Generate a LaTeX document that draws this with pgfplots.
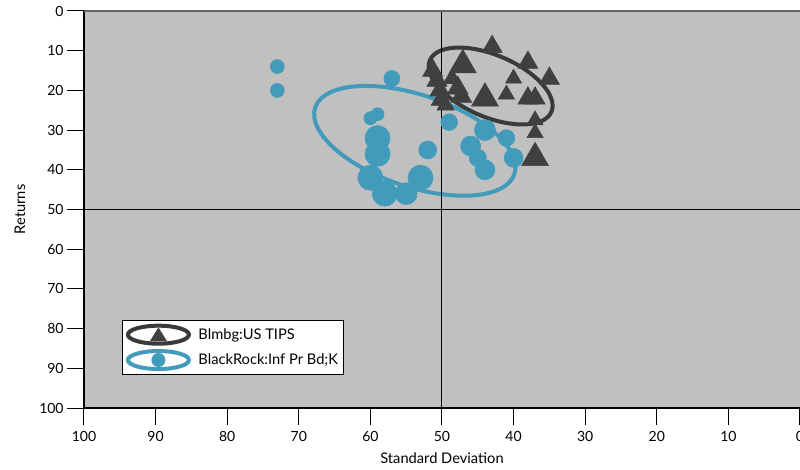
\documentclass[border=0pt]{standalone}
\usepackage{pgfplots}
\pgfplotsset{compat=1.18}
\usepackage{pgfplotstable}
\usepackage{fontspec}
\setmainfont{Lato}
\definecolor{bggrey}{RGB}{192,192,192}
\definecolor{darktri}{RGB}{64,64,64}
\definecolor{darkell}{RGB}{58,58,58}
\definecolor{myblue}{RGB}{67,155,187}
\definecolor{topline}{RGB}{100,100,100}
\pgfplotstableread{
x y s
43 9 8.7
47.1 13.6 11.7
38 13 8.7
35 17 8.7
40 17 7
41 21 7
44 22 11.7
38 22 8.7
37 22 8.7
37 27.5 7
37 30.7 7
37 37 11.7
51.3 15 8.7
50.7 17.5 8.7
50.3 20 8.7
50.3 22.5 7.5
49.5 23.7 7.5
47.8 19.4 9
47.3 21.5 9
48.6 17 7.5
}\tips
\pgfplotstableread{
x y s
73 14 5.25
73 20 5.25
57 17 6
59 26 4.9
60 27 4.9
59 32 9.4
59 36 9.4
52 35 6.75
49 28 6.3
60 42 9.4
58 46 9.4
55 46 8.2
53 42 9.4
44 30 7.9
41 32 6.3
46 34 7.5
45 37 6.5
44 40 7.5
40 37 7.1
}\brock
\begin{document}
\begin{tikzpicture}
\begin{axis}[
  scale only axis, width=537pt, height=297.75pt,
  xmin=0, xmax=100, ymin=0, ymax=100,
  x dir=reverse, y dir=reverse,
  xtick={0,10,...,100}, ytick={0,10,...,100},
  xtick pos=lower, ytick pos=left,
  axis line style={draw=none},
  axis background/.style={fill=bggrey},
  tick align=outside, major tick length=12.75pt,
  tick style={black, line width=0.75pt},
  /pgf/number format/assume math mode=true,
  ticklabel style={font=\fontsize{10.5}{12}\selectfont},
  xticklabel style={yshift=-1pt},
  yticklabel style={xshift=1pt},
  xlabel={Standard Deviation}, ylabel={Returns},
  every axis x label/.style={at={(axis description cs:0.5,0)}, yshift=-37.5pt, anchor=center, font=\fontsize{11}{13}\selectfont},
  every axis y label/.style={at={(axis description cs:0,0.5)}, xshift=-48pt, rotate=90, anchor=center, font=\fontsize{11}{13}\selectfont},
  legend style={at={(0.053,0.222)}, anchor=north west, draw=black, line width=0.75pt, fill=white,
    font=\fontsize{11}{13}\selectfont, inner xsep=2pt, inner ysep=2.5pt, row sep=2.5pt},
  legend cell align=left,
  clip=false,
]
\coordinate (BL) at (axis description cs:0,0);
\coordinate (TR) at (axis description cs:1,1);
% dark ellipse
\draw[line width=3pt, draw=darkell, rotate around={-23:(axis cs:43.2,18.9)}] (axis cs:43.2,18.9) ellipse [x radius=49.5pt, y radius=23.25pt];
\addplot[scatter, only marks, mark=triangle*, forget plot,
  scatter/use mapped color={draw=darktri, fill=darktri},
  visualization depends on={\thisrow{s} \as \msize},
  scatter/@pre marker code/.append style={/tikz/mark size=\msize pt}]
  table[x=x, y=y, meta=s] {\tips};
% blue ellipse
\draw[line width=3pt, draw=myblue, rotate around={-18.5:(axis cs:53.8,32.7)}] (axis cs:53.8,32.7) ellipse [x radius=78.75pt, y radius=34.5pt];
\addplot[scatter, only marks, mark=*, forget plot,
  scatter/use mapped color={draw=myblue, fill=myblue},
  visualization depends on={\thisrow{s} \as \msize},
  scatter/@pre marker code/.append style={/tikz/mark size=\msize pt}]
  table[x=x, y=y, meta=s] {\brock};
% crosshair
\draw[black, line width=0.75pt] (axis cs:50,0) -- (axis cs:50,100);
\draw[black, line width=0.75pt] (axis cs:0,50) -- (axis cs:100,50);
% axis lines
\draw[black, line width=1pt] (axis description cs:0,0) -- (axis description cs:0,1);
\draw[black, line width=1pt] (axis description cs:0,0) -- (axis description cs:1,0);
\draw[topline, line width=1.5pt] (axis description cs:0,1) -- (axis description cs:1,1);
\addlegendimage{legend image code/.code={
  \path[draw=none, fill=none] (0pt,0pt) -- (53pt,0pt);
  \draw[line width=3pt, draw=darkell, fill=none] (25pt,0pt) ellipse [x radius=22.9pt, y radius=6.75pt];
  \fill[darktri, draw=none] (25pt,5.5pt) -- (31.5pt,-5pt) -- (18.5pt,-5pt) -- cycle;
}}
\addlegendentry{Blmbg:US TIPS}
\addlegendimage{legend image code/.code={
  \path[draw=none, fill=none] (0pt,0pt) -- (53pt,0pt);
  \draw[line width=3pt, draw=myblue, fill=none] (25pt,0pt) ellipse [x radius=22.9pt, y radius=6.75pt];
  \fill[myblue, draw=none] (25pt,0pt) circle [radius=5.25pt];
}}
\addlegendentry{BlackRock:Inf Pr Bd;K}
\end{axis}
\pgfresetboundingbox
\path ([shift={(-63pt,-46.5pt)}]BL) rectangle ([shift={(0pt,8.25pt)}]TR);
\end{tikzpicture}
\end{document}
